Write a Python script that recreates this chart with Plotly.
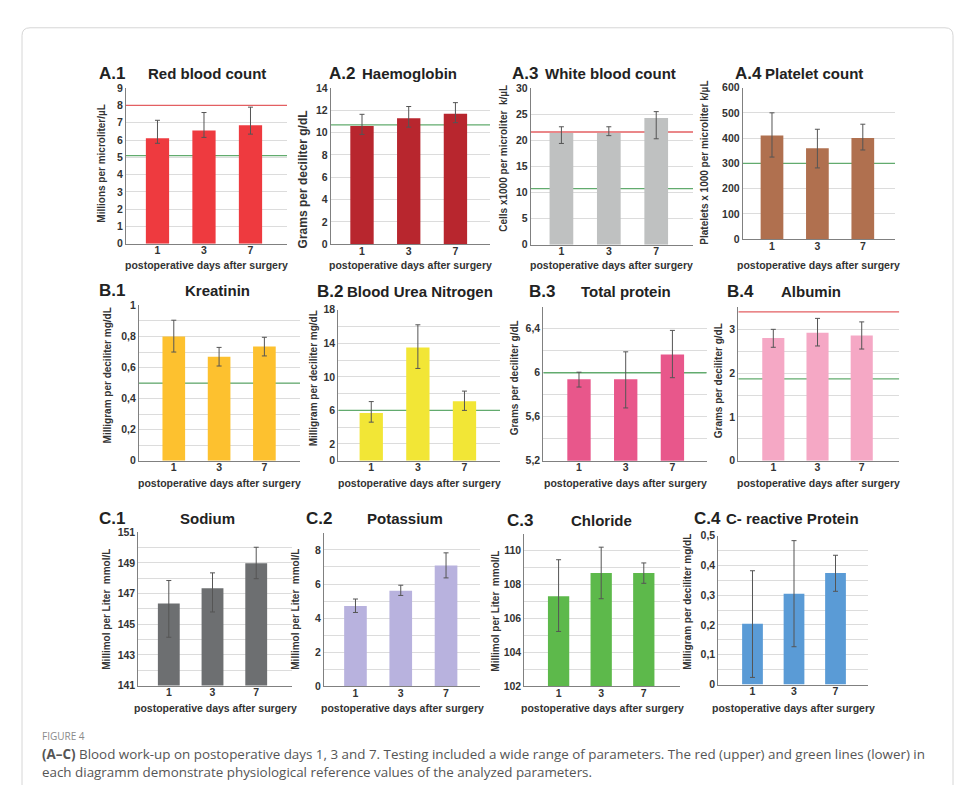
import plotly.graph_objects as go

# screen size; the page body adds an 8px margin on every side,
# so the figure is made 16px smaller to fit the window exactly
SW, SH = 971, 799
OFF = 8
FW, FH = SW - 2 * OFF, SH - 2 * OFF
days = ["1", "3", "7"]

# ---------------- data ----------------
rbc_mean = [6.1, 6.55, 6.85]
rbc_err_up = [1.04, 1.04, 1.05]
rbc_err_down = [0.29, 0.40, 0.51]

hb_mean = [10.6, 11.3, 11.7]
hb_err_up = [1.05, 1.05, 1.0]
hb_err_down = [0.75, 0.8, 0.8]

wbc_mean = [21.4, 21.4, 24.3]
wbc_err_up = [1.2, 1.2, 1.2]
wbc_err_down = [2.0, 0.5, 4.0]

plt_mean = [410, 360, 400]
plt_err_up = [90, 75, 55]
plt_err_down = [85, 78, 47]

crea_mean = [0.8, 0.67, 0.735]
crea_err_up = [0.105, 0.06, 0.06]
crea_err_down = [0.1, 0.06, 0.06]

bun_mean = [5.7, 13.5, 7.1]
bun_err_up = [1.35, 2.7, 1.2]
bun_err_down = [1.1, 2.5, 1.1]

tp_mean = [5.94, 5.94, 6.165]
tp_err_up = [0.065, 0.25, 0.22]
tp_err_down = [0.07, 0.26, 0.21]

alb_mean = [2.8, 2.92, 2.86]
alb_err_up = [0.2, 0.33, 0.31]
alb_err_down = [0.21, 0.3, 0.31]

na_mean = [146.35, 147.35, 148.97]
na_err_up = [1.5, 1.0, 1.05]
na_err_down = [2.2, 1.55, 1.0]

k_mean = [4.71, 5.6, 7.09]
k_err_up = [0.41, 0.33, 0.74]
k_err_down = [0.38, 0.27, 0.73]

cl_mean = [107.3, 108.67, 108.67]
cl_err_up = [2.16, 1.53, 0.6]
cl_err_down = [2.07, 1.51, 0.6]

crp_mean = [0.204, 0.305, 0.374]
crp_err_up = [0.178, 0.178, 0.06]
crp_err_down = [0.18, 0.178, 0.061]

# reference values (upper = red, lower = green)
ref_upper = {"A.1": 8.0, "A.3": 21.6, "B.4": 3.4}
ref_lower = {"A.1": 5.1, "A.2": 10.7, "A.3": 10.75, "A.4": 300,
             "B.1": 0.5, "B.2": 6, "B.3": 6.0, "B.4": 1.87}

# tick labels
ticks_a1 = [0, 1, 2, 3, 4, 5, 6, 7, 8, 9]
ticks_a2 = [0, 2, 4, 6, 8, 10, 12, 14]
ticks_a3 = [0, 5, 10, 15, 20, 25, 30]
ticks_a4 = [0, 100, 200, 300, 400, 500, 600]
ticks_b1 = [0, 0.2, 0.4, 0.6, 0.8, 1]
labels_b1 = ["0", "0,2", "0,4", "0,6", "0,8", "1"]
ticks_b2 = [0, 2, 6, 10, 14, 18]
ticks_b3 = [5.2, 5.6, 6.0, 6.4]
labels_b3 = ["5,2", "5,6", "6", "6,4"]
ticks_b4 = [0, 1, 2, 3]
ticks_c1 = [141, 143, 145, 147, 149, 151]
ticks_c2 = [0, 2, 4, 6, 8]
ticks_c3 = [102, 104, 106, 108, 110]
ticks_c4 = [0, 0.1, 0.2, 0.3, 0.4, 0.5]
labels_c4 = ["0", "0,1", "0,2", "0,3", "0,4", "0,5"]

panels = [
    dict(key="A.1", name="Red blood count", ytitle="Millions per microliter/µL",
         mean=rbc_mean, up=rbc_err_up, down=rbc_err_down,
         yrange=[0, 9], tv=ticks_a1, tt=None, minor=None),
    dict(key="A.2", name="Haemoglobin", ytitle="Grams per deciliter g/dL",
         mean=hb_mean, up=hb_err_up, down=hb_err_down,
         yrange=[0, 14], tv=ticks_a2, tt=None, minor=None),
    dict(key="A.3", name="White blood count", ytitle="Cells x1000 per microliter  k/µL",
         mean=wbc_mean, up=wbc_err_up, down=wbc_err_down,
         yrange=[0, 30], tv=ticks_a3, tt=None, minor=None),
    dict(key="A.4", name="Platelet count", ytitle="Platelets x 1000 per microliter k/µL",
         mean=plt_mean, up=plt_err_up, down=plt_err_down,
         yrange=[0, 600], tv=ticks_a4, tt=None, minor=None),
    dict(key="B.1", name="Kreatinin", ytitle="Milligram per deciliter mg/dL",
         mean=crea_mean, up=crea_err_up, down=crea_err_down,
         yrange=[0, 1], tv=ticks_b1, tt=labels_b1, minor=(0, 0.1)),
    dict(key="B.2", name="Blood Urea Nitrogen", ytitle="Milligram per deciliter mg/dL",
         mean=bun_mean, up=bun_err_up, down=bun_err_down,
         yrange=[0, 18], tv=ticks_b2, tt=None, minor=(0, 2)),
    dict(key="B.3", name="Total protein", ytitle="Grams per deciliter g/dL",
         mean=tp_mean, up=tp_err_up, down=tp_err_down,
         yrange=[5.2, 6.6], tv=ticks_b3, tt=labels_b3, minor=(5.2, 0.2)),
    dict(key="B.4", name="Albumin", ytitle="Grams per deciliter g/dL",
         mean=alb_mean, up=alb_err_up, down=alb_err_down,
         yrange=[0, 3.5], tv=ticks_b4, tt=None, minor=(0, 0.5)),
    dict(key="C.1", name="Sodium", ytitle="Millimol per Liter  mmol/L",
         mean=na_mean, up=na_err_up, down=na_err_down,
         yrange=[141, 151], tv=ticks_c1, tt=None, minor=(141, 1)),
    dict(key="C.2", name="Potassium", ytitle="Millimol per Liter  mmol/L",
         mean=k_mean, up=k_err_up, down=k_err_down,
         yrange=[0, 9], tv=ticks_c2, tt=None, minor=(0, 1)),
    dict(key="C.3", name="Chloride", ytitle="Millimol per Liter  mmol/L",
         mean=cl_mean, up=cl_err_up, down=cl_err_down,
         yrange=[102, 111], tv=ticks_c3, tt=None, minor=(102, 1)),
    dict(key="C.4", name="C- reactive Protein", ytitle="Milligram per deciliter mg/dL",
         mean=crp_mean, up=crp_err_up, down=crp_err_down,
         yrange=[0, 0.5], tv=ticks_c4, tt=labels_c4, minor=(0, 0.05)),
]

# ---------------- styling / layout (screen pixel boxes) ----------------
colors = {"A.1": "#EE3A3F", "A.2": "#B8262E", "A.3": "#BFC1C1", "A.4": "#B0704F",
          "B.1": "#FDC12F", "B.2": "#F2E636", "B.3": "#E8578B", "B.4": "#F5A8C5",
          "C.1": "#6D6F71", "C.2": "#B8B2DE", "C.3": "#5DB94B", "C.4": "#5A9BD6"}

# x0, x1, ytop, ybottom (px), category range
boxes = {
    "A.1": (126, 287, 83.3, 241.3, -0.677, 2.785),
    "A.2": (330.7, 490, 83.3, 241.7, -0.67, 2.74),
    "A.3": (530.7, 693, 83.3, 242.3, -0.648, 2.776),
    "A.4": (742.7, 895, 82.7, 236.7, -0.645, 2.709),
    "B.1": (139, 300, 304, 461.7, -0.768, 2.786),
    "B.2": (338.3, 500, 308.3, 461.7, -0.707, 2.762),
    "B.3": (543.3, 706.7, 305.3, 461.7, -0.764, 2.734),
    "B.4": (738.3, 899.3, 306, 461.7, -0.792, 2.85),
    "C.1": (138.3, 291.7, 534.3, 690, -0.698, 2.812),
    "C.2": (324, 480, 535, 690.7, -0.695, 2.75),
    "C.3": (524.3, 680, 535.7, 690.7, -0.805, 2.85),
    "C.4": (718.3, 868.3, 537.7, 689, -0.824, 2.79),
}
# label left x, name centre x, title y
title_pos = {
    "A.1": (97, 207, 68), "A.2": (327, 409, 68), "A.3": (510, 610, 68), "A.4": (733, 814, 68),
    "B.1": (97, 217, 289), "B.2": (315, 420, 290), "B.3": (527, 626, 290), "B.4": (725, 811, 290),
    "C.1": (97, 207, 520), "C.2": (304, 405, 520), "C.3": (505, 601, 522), "C.4": (692, 792, 520),
}
# y-title x, centre y, font size
ytitle_pos = {
    "A.1": (102, 160, 10), "A.2": (303, 176, 12), "A.3": (504, 155, 10), "A.4": (705, 159, 10),
    "B.1": (107, 375, 10), "B.2": (313, 378, 10), "B.3": (514, 378, 10), "B.4": (718, 381, 10),
    "C.1": (107, 613, 10), "C.2": (296, 613, 10), "C.3": (496, 615, 10), "C.4": (688, 605, 10),
}
xtitle_y = {"A": 263, "B": 484, "C": 713}

FONT = "Liberation Sans, Arial, sans-serif"
TXT = "#333333"
GRID = "#DCDCDC"
AXIS = "#808080"


def px(x):
    return (x - OFF) / FW


def py(y):
    return (FH - (y - OFF)) / FH


fig = go.Figure()
annotations = []
shapes = []
layout_axes = {}

# outer frame with rounded top corners (kept inside the figure)
fx0, fx1, fy0, fy1, rr = 22, 953, 22, SH - OFF, 8
path = (f"M {px(fx0)},{py(fy1)} L {px(fx0)},{py(fy0 + rr)} "
        f"Q {px(fx0)},{py(fy0)} {px(fx0 + rr)},{py(fy0)} "
        f"L {px(fx1 - rr)},{py(fy0)} Q {px(fx1)},{py(fy0)} {px(fx1)},{py(fy0 + rr)} "
        f"L {px(fx1)},{py(fy1)}")
shapes.append(dict(type="path", xref="paper", yref="paper", path=path,
                   line=dict(color="#D6D6D6", width=1), layer="below"))

for i, p in enumerate(panels, start=1):
    k = p["key"]
    x0, x1, yt, yb, r0, r1 = boxes[k]
    xa = "x" if i == 1 else f"x{i}"
    ya = "y" if i == 1 else f"y{i}"
    fig.add_trace(go.Bar(
        x=days, y=p["mean"], xaxis=xa, yaxis=ya, width=0.5,
        marker=dict(color=colors[k], line=dict(width=0)),
        error_y=dict(type="data", symmetric=False, array=p["up"], arrayminus=p["down"],
                     color="#555555", thickness=1, width=2.5),
        showlegend=False, hoverinfo="x+y",
    ))
    xname = "xaxis" if i == 1 else f"xaxis{i}"
    yname = "yaxis" if i == 1 else f"yaxis{i}"
    layout_axes[xname] = dict(
        domain=[px(x0), px(x1)], anchor=ya, type="category", range=[r0, r1],
        showline=True, linecolor=AXIS, linewidth=1, ticks="", showgrid=False,
        ticklabelstandoff=-3,
        tickfont=dict(family=FONT, size=10.5, color=TXT, weight="bold"), fixedrange=True,
    )
    yax = dict(
        domain=[py(yb), py(yt)], anchor=xa, range=p["yrange"],
        tickmode="array", tickvals=p["tv"],
        showline=True, linecolor=AXIS, linewidth=1, ticks="",
        showgrid=True, gridcolor=GRID, gridwidth=1, zeroline=False,
        tickfont=dict(family=FONT, size=10.5, color=TXT, weight="bold"), fixedrange=True,
    )
    if p["tt"] is not None:
        yax["ticktext"] = p["tt"]
    if p["minor"] is not None:
        yax["minor"] = dict(tick0=p["minor"][0], dtick=p["minor"][1], showgrid=True,
                            gridcolor=GRID, gridwidth=1, ticks="")
    layout_axes[yname] = yax

    # reference lines (drawn between gridlines and bars)
    if k in ref_upper:
        shapes.append(dict(type="line", xref=xa, yref=ya, x0=r0, x1=r1,
                           y0=ref_upper[k], y1=ref_upper[k], layer="between",
                           line=dict(color="#E35F62", width=1.3)))
    if k in ref_lower:
        shapes.append(dict(type="line", xref=xa, yref=ya, x0=r0, x1=r1,
                           y0=ref_lower[k], y1=ref_lower[k], layer="between",
                           line=dict(color="#62AB6E", width=1.3)))

    # titles
    lx, ncx, ty = title_pos[k]
    annotations.append(dict(x=px(lx), y=py(ty), xref="paper", yref="paper", text=k,
                            showarrow=False, xanchor="left", yanchor="middle",
                            font=dict(family=FONT, size=17, color="#222222", weight="bold")))
    annotations.append(dict(x=px(ncx), y=py(ty), xref="paper", yref="paper", text=p["name"],
                            showarrow=False, xanchor="center", yanchor="middle",
                            font=dict(family=FONT, size=15, color="#222222", weight="bold")))
    # y title
    ytx, ytc, yfs = ytitle_pos[k]
    annotations.append(dict(x=px(ytx), y=py(ytc), xref="paper", yref="paper", text=p["ytitle"],
                            showarrow=False, textangle=-90, xanchor="center", yanchor="middle",
                            font=dict(family=FONT, size=yfs, color=TXT, weight="bold")))
    # x title
    annotations.append(dict(x=px((x0 + x1) / 2), y=py(xtitle_y[k[0]]), xref="paper", yref="paper",
                            text="postoperative days after surgery", showarrow=False,
                            xanchor="center", yanchor="middle",
                            font=dict(family=FONT, size=10.5, color=TXT, weight="bold")))

# caption
CAP = "Open Sans, Noto Sans, sans-serif"
annotations.append(dict(x=px(40), y=py(741), xref="paper", yref="paper", text="FIGURE 4",
                        showarrow=False, xanchor="left", yanchor="middle",
                        font=dict(family=CAP, size=10, color="#8A8A8A")))
annotations.append(dict(x=px(40), y=py(760), xref="paper", yref="paper",
                        text="<b>(A–C)</b> Blood work-up on postoperative days 1, 3 and 7. Testing included a wide range of parameters. The red (upper) and green lines (lower) in",
                        showarrow=False, xanchor="left", yanchor="middle",
                        font=dict(family=CAP, size=13.4, color="#555555")))
annotations.append(dict(x=px(40), y=py(778), xref="paper", yref="paper",
                        text="each diagramm demonstrate physiological reference values of the analyzed parameters.",
                        showarrow=False, xanchor="left", yanchor="middle",
                        font=dict(family=CAP, size=13.4, color="#555555")))

fig.update_layout(
    width=FW, height=FH, margin=dict(l=0, r=0, t=0, b=0),
    paper_bgcolor="white", plot_bgcolor="white",
    annotations=annotations, shapes=shapes, separators=",.",
    bargap=0.5, **layout_axes,
)

fig.write_html("out.html")
